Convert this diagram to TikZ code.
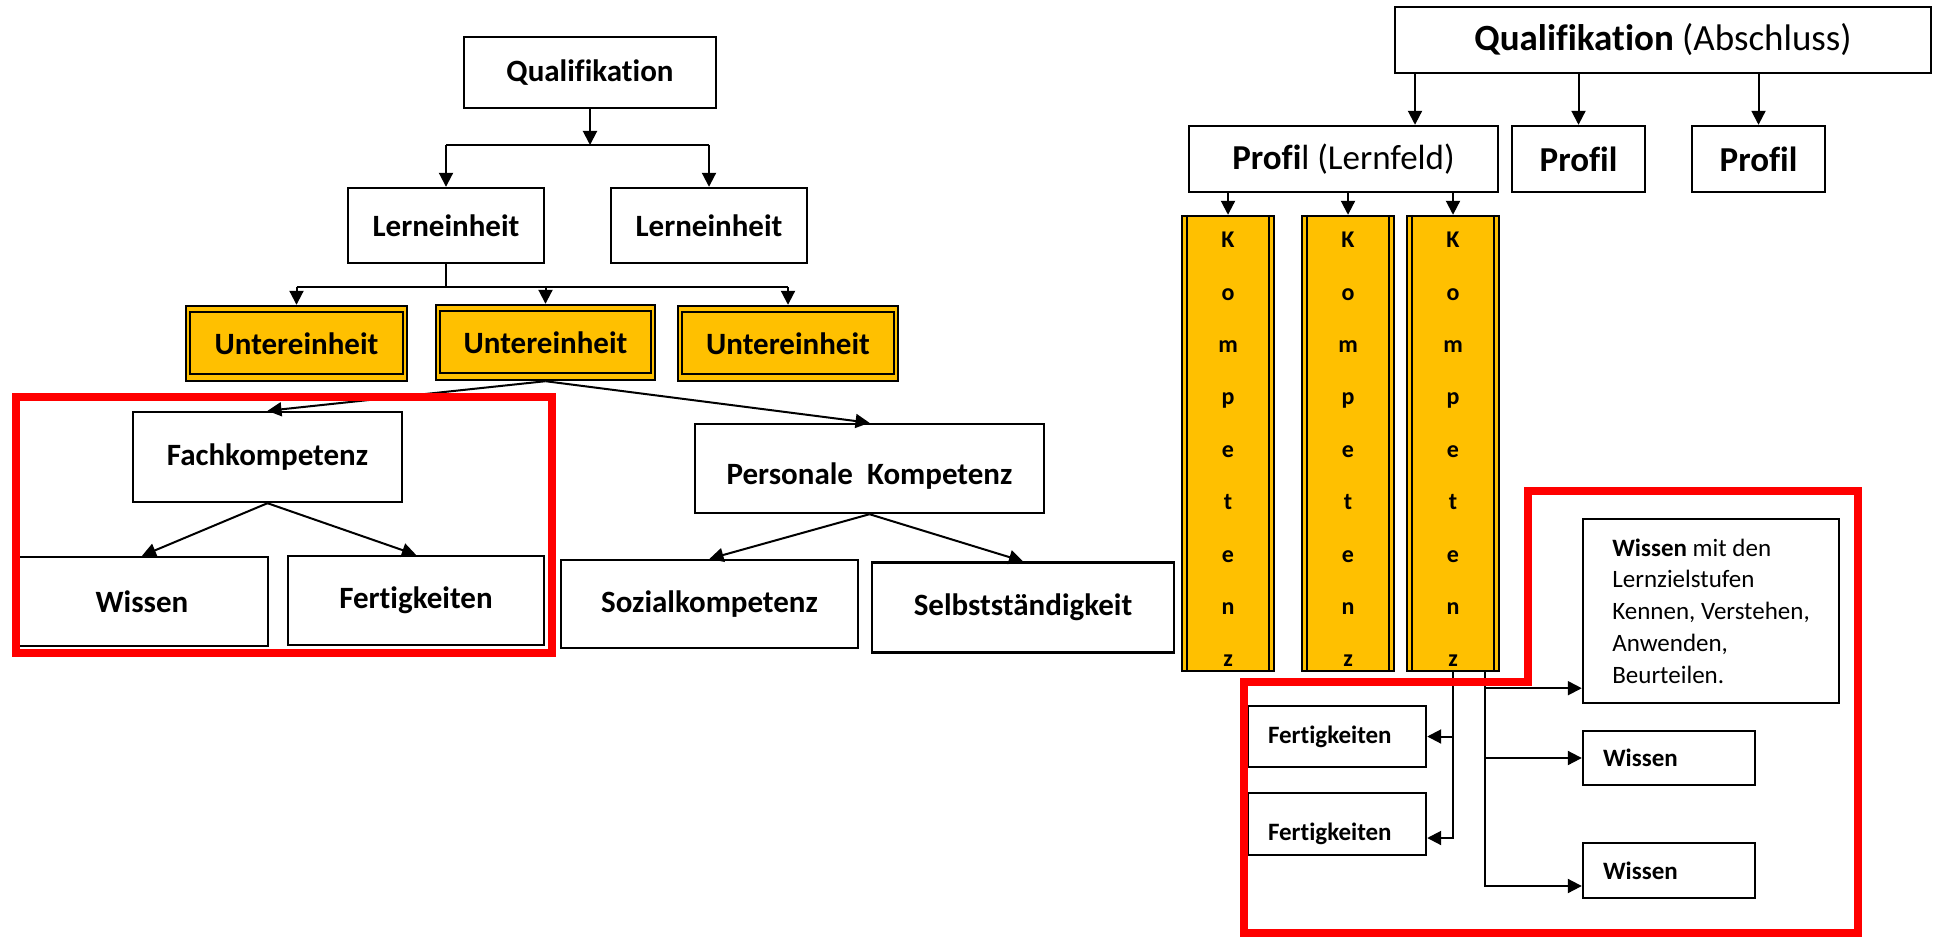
\documentclass[tikz,border=0pt]{standalone}
\usepackage{fontspec}
\setmainfont{Carlito}[Ligatures={TeX,NoCommon}]
\usepackage{tikz}
\usetikzlibrary{arrows.meta,calc}
\definecolor{gelb}{HTML}{FFC000}
\definecolor{rot}{HTML}{FF0000}

\begin{document}
\begin{tikzpicture}[x=0.5pt,y=0.5pt,yscale=-1,
  kasten/.style={draw,line width=1.2pt,fill=white,inner sep=0pt,align=center,font=\fontsize{15.5}{18}\selectfont\bfseries},
  ukasten/.style={kasten,fill=gelb},
  kompkasten/.style={draw,line width=1.2pt,fill=gelb,inner sep=0pt,align=center,minimum width=46pt,minimum height=227.5pt,font=\fontsize{12}{26.2}\selectfont\bfseries},
  rkasten/.style={draw,line width=1.2pt,fill=white,inner xsep=10pt,inner ysep=0pt,align=left,font=\fontsize{12.5}{15.85}\selectfont},
  pfeil/.style={line width=1pt,-{Triangle[length=7pt,width=7pt]}},
  balken/.style={line width=1.4pt},
  rahmen/.style={draw=rot,line width=4pt}]
\useasboundingbox (0,0) rectangle (1936,936);

%Shape: Rectangle
\node[kasten,minimum width=126pt,minimum height=35.5pt] (quali) at (590,72.5) {Qualifikation};
%Shape: Rectangle
\node[kasten,minimum width=98pt,minimum height=37.5pt] (lern1) at (446,225.5) {Lerneinheit};
%Shape: Rectangle
\node[kasten,minimum width=98pt,minimum height=37.5pt] (lern2) at (709,225.5) {Lerneinheit};
%Shape: Double Rectangle
\node[ukasten,minimum width=110.5pt,minimum height=37.5pt] (unter1) at (296.5,343.5) {Untereinheit};
\draw[line width=1.2pt] ($(unter1.north west)+(5,7)$) rectangle ($(unter1.south east)+(-5,-8)$);
%Shape: Double Rectangle
\node[ukasten,minimum width=109.5pt,minimum height=37.5pt] (unter2) at (545.5,342.5) {Untereinheit};
\draw[line width=1.2pt] ($(unter2.north west)+(5,7)$) rectangle ($(unter2.south east)+(-5,-8)$);
%Shape: Double Rectangle
\node[ukasten,minimum width=110pt,minimum height=37.5pt] (unter3) at (788,343.5) {Untereinheit};
\draw[line width=1.2pt] ($(unter3.north west)+(5,7)$) rectangle ($(unter3.south east)+(-5,-8)$);
%Shape: Rectangle
\node[kasten,minimum width=134.5pt,minimum height=45pt] (fach) at (267.5,457) {Fachkompetenz};
%Shape: Rectangle
\node[kasten,minimum width=174.5pt,minimum height=44.5pt,text height=19pt,text depth=2.8pt] (pers) at (869.5,468.5) {Personale\ \ Kompetenz};
%Shape: Rectangle
\node[kasten,minimum width=126pt,minimum height=44.5pt] (wissenL) at (142,601.5) {Wissen};
%Shape: Rectangle
\node[kasten,minimum width=128pt,minimum height=44.5pt] (fertL) at (416,600.5) {Fertigkeiten};
%Shape: Rectangle
\node[kasten,minimum width=148.5pt,minimum height=44pt] (sozial) at (709.5,604) {Sozialkompetenz};
%Shape: Rectangle
\node[kasten,minimum width=151pt,minimum height=45pt] (selbst) at (1023,607.5) {Selbstständigkeit};

%Straight Lines
\coordinate (gabel1) at (588,145);
\draw[pfeil] (quali.south) -- (quali.south |- gabel1);
\draw[balken] (lern1.north |- gabel1) -- (lern2.north |- gabel1);
\draw[pfeil] (lern1.north |- gabel1) -- (lern1.north);
\draw[pfeil] (lern2.north |- gabel1) -- (lern2.north);
%Straight Lines
\coordinate (gabel2) at (453,287);
\draw[line width=1.2pt] (lern1.south) -- (lern1.south |- gabel2);
\draw[balken] (unter1.north |- gabel2) -- (unter3.north |- gabel2);
\draw[pfeil] (unter1.north |- gabel2) -- (unter1.north);
\draw[pfeil] (unter2.north |- gabel2) -- (unter2.north);
\draw[pfeil] (unter3.north |- gabel2) -- (unter3.north);
%Straight Lines
\draw[pfeil] (unter2.south) -- (fach.north);
\draw[pfeil] (unter2.south) -- (pers.north);
\draw[pfeil] (fach.south) -- (wissenL.north);
\draw[pfeil] (fach.south) -- (fertL.north);
\draw[pfeil] (pers.south) -- (sozial.north);
\draw[pfeil] (pers.south) -- (selbst.north);

%Shape: Rectangle
\node[kasten,font=\fontsize{18.5}{22}\selectfont,minimum width=268pt,minimum height=33pt] (qualiR) at (1663,40) {\textbf{Qualifikation} (Abschluss)};
%Shape: Rectangle
\node[kasten,font=\fontsize{17.5}{21}\selectfont,minimum width=154.5pt,minimum height=33pt] (profilLF) at (1343.5,159) {\textbf{Profi}l (Lernfeld)};
%Shape: Rectangle
\node[kasten,font=\fontsize{17.5}{21}\selectfont\bfseries,minimum width=66.5pt,minimum height=33pt] (profil2) at (1578.5,159) {Profil};
%Shape: Rectangle
\node[kasten,font=\fontsize{17.5}{21}\selectfont\bfseries,minimum width=66.5pt,minimum height=33pt] (profil3) at (1758.5,159) {Profil};

%Straight Lines
\draw[pfeil] (1415,0 |- qualiR.south) -- (1415,0 |- profilLF.north);
\draw[pfeil] (profil2.north |- qualiR.south) -- (profil2.north);
\draw[pfeil] (profil3.north |- qualiR.south) -- (profil3.north);

%Shape: Column
\node[kompkasten] (komp1) at (1228,443.5) {K\rule{0pt}{13.7pt}\\o\\m\\p\\e\\t\\e\\n\\z};
\draw[line width=1.2pt] ($(komp1.north west)+(6,0)$) -- ($(komp1.south west)+(6,0)$);
\draw[line width=1.2pt] ($(komp1.north east)+(-6,0)$) -- ($(komp1.south east)+(-6,0)$);
%Shape: Column
\node[kompkasten] (komp2) at (1348,443.5) {K\rule{0pt}{13.7pt}\\o\\m\\p\\e\\t\\e\\n\\z};
\draw[line width=1.2pt] ($(komp2.north west)+(6,0)$) -- ($(komp2.south west)+(6,0)$);
\draw[line width=1.2pt] ($(komp2.north east)+(-6,0)$) -- ($(komp2.south east)+(-6,0)$);
%Shape: Column
\node[kompkasten] (komp3) at (1453,443.5) {K\rule{0pt}{13.7pt}\\o\\m\\p\\e\\t\\e\\n\\z};
\draw[line width=1.2pt] ($(komp3.north west)+(6,0)$) -- ($(komp3.south west)+(6,0)$);
\draw[line width=1.2pt] ($(komp3.north east)+(-6,0)$) -- ($(komp3.south east)+(-6,0)$);

%Straight Lines
\draw[pfeil] (profilLF.south -| komp1.north) -- (komp1.north);
\draw[pfeil] (profilLF.south -| komp2.north) -- (komp2.north);
\draw[pfeil] (profilLF.south -| komp3.north) -- (komp3.north);

%Shape: Rectangle
\node[rkasten,minimum width=128pt,minimum height=92pt] (wissenA) at (1711,611) {\textbf{Wissen} mit den\\Lernzielstufen\\Kennen, Verstehen,\\Anwenden,\\Beurteilen.};
%Shape: Rectangle
\node[rkasten,text width=66pt,minimum height=27pt] (wissenB) at (1669,758) {\textbf{Wissen}};
%Shape: Rectangle
\node[rkasten,text width=66pt,minimum height=27.5pt] (wissenC) at (1669,870.5) {\textbf{Wissen}};
%Shape: Rectangle
\node[rkasten,text width=69pt,minimum height=30.5pt] (fert1) at (1337,736.5) {\textbf{Fertigkeiten}};
%Shape: Rectangle
\node[rkasten,text width=69pt,minimum height=31pt,text height=16pt,text depth=0pt] (fert2) at (1337,824) {\textbf{Fertigkeiten}};

%Straight Lines
\draw[pfeil] (komp3.south) |- ($(fert2.east)+(0,14)$);
\draw[pfeil] (komp3.south |- fert1.east) -- (fert1.east);
\coordinate (stemR) at ($(komp3.south)+(32,0)$);
\coordinate (pA) at ($(wissenA.south west)+(0,-16)$);
\draw[pfeil] (stemR) |- ($(wissenC.west)+(0,15.5)$);
\draw[pfeil] (stemR |- wissenB.west) -- (wissenB.west);
\draw[pfeil] (stemR |- pA) -- (pA);

%Red Frames
\draw[rahmen] (16,397) rectangle (552,653);
\draw[rahmen] (1528,491) -- (1858,491) -- (1858,933) -- (1244,933) -- (1244,682) -- (1528,682) -- cycle;
\end{tikzpicture}
\end{document}
